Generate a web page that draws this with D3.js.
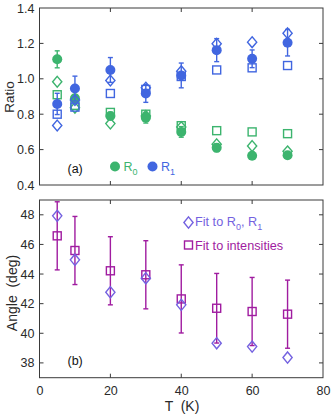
<!DOCTYPE html>
<html><head><meta charset="utf-8">
<script src="https://cdn.jsdelivr.net/npm/d3@7"></script>
<style>body{margin:0;background:#fff}svg{display:block}text{font-family:"Liberation Sans",Arial,sans-serif}</style>
</head><body><svg id="c" width="332" height="416"></svg>
<script>
// ---- data ----
const T = [5, 10, 20, 30, 40, 50, 60, 70];
// panel (a): ratios
const R0 = [1.11, 0.89, 0.79, 0.78, 0.70, 0.61, 0.565, 0.568];
const R0err = [0.048, 0.02, 0.02, 0.03, 0.03, 0.022, 0.02, 0.015];
const R0diamond = [0.983, 0.836, 0.747, 0.79, 0.727, 0.63, 0.62, 0.59];
const R0square = [0.91, 0.85, 0.81, 0.80, 0.735, 0.707, 0.70, 0.69];
const R1 = [0.858, 0.945, 1.05, 0.917, 1.019, 1.162, 1.113, 1.204];
const R1err = [0.06, 0.07, 0.07, 0.05, 0.07, 0.065, 0.05, 0.075];
const R1diamond = [0.736, 0.88, 0.99, 0.95, 1.043, 1.198, 1.207, 1.257];
const R1square = [0.80, 0.84, 0.917, 0.94, 1.013, 1.05, 1.062, 1.075];
// panel (b): angles
const angleFitR = [47.93, 44.96, 42.77, 43.72, 41.92, 39.33, 39.10, 38.36];
const angleFitI = [46.58, 45.59, 44.22, 43.95, 42.32, 41.69, 41.47, 41.29];
const angleFitIerr = [2.3, 2.3, 2.3, 2.3, 2.3, 2.35, 2.3, 2.3];
const xTicks = [0, 20, 40, 60, 80];
const yTicksA = [0.4, 0.6, 0.8, 1.0, 1.2, 1.4];
const yTicksB = [38, 40, 42, 44, 46, 48];

const GREEN = "#3cb46e", BLUE = "#4166e0", VIOLET = "#7462e0", PURPLE = "#a01ca0", AX = "#3a3a3a";
const svg = d3.select("#c");
const x = d3.scaleLinear().domain([0, 80]).range([39.5, 323]);
const yA = d3.scaleLinear().domain([0.4, 1.4]).range([185, 8]);
const yB = d3.scaleLinear().domain([37, 49]).range([377.7, 200]);

function frame(y, yt, fmt, showX) {
  const g = svg.append("g");
  const [y0, y1] = y.range();
  const tl = 4;
  // inner ticks
  const xs = [20, 40, 60];
  xs.forEach(v => {
    g.append("line").attr("x1", x(v)).attr("x2", x(v)).attr("y1", y0).attr("y2", y0 - tl).attr("stroke", AX);
    g.append("line").attr("x1", x(v)).attr("x2", x(v)).attr("y1", y1).attr("y2", y1 + tl).attr("stroke", AX);
  });
  yt.forEach(v => {
    if (Math.abs(y(v) - y0) < 1 || Math.abs(y(v) - y1) < 1) return;
    g.append("line").attr("x1", x(0)).attr("x2", x(0) + tl).attr("y1", y(v)).attr("y2", y(v)).attr("stroke", AX);
    g.append("line").attr("x1", x(80)).attr("x2", x(80) - tl).attr("y1", y(v)).attr("y2", y(v)).attr("stroke", AX);
  });
  g.append("rect").attr("x", x(0)).attr("y", y1).attr("width", x(80) - x(0)).attr("height", y0 - y1)
    .attr("fill", "none").attr("stroke", AX).attr("stroke-width", 1);
  // left axis labels via d3 axis
  const ya = d3.axisLeft(y).tickValues(yt).tickFormat(fmt).tickSize(0).tickPadding(5);
  const ag = g.append("g").attr("transform", `translate(${x(0)},0)`).call(ya);
  ag.select(".domain").remove();
  ag.selectAll("text").attr("font-size", 12.5).attr("fill", "#2a2a2a").attr("font-family", "Liberation Sans, Arial, sans-serif");
  if (showX) {
    const xa = d3.axisBottom(x).tickValues(xTicks).tickFormat(d3.format("d")).tickSize(0).tickPadding(8);
    const xg = g.append("g").attr("transform", `translate(0,${y0})`).call(xa);
    xg.select(".domain").remove();
    xg.selectAll("text").attr("font-size", 12.5).attr("fill", "#2a2a2a").attr("font-family", "Liberation Sans, Arial, sans-serif");
  }
}
frame(yA, yTicksA, d3.format(".1f"), false);
frame(yB, yTicksB, d3.format("d"), true);

function diamondPath(cx, cy, w, h) {
  return `M${cx},${cy - h}L${cx + w},${cy}L${cx},${cy + h}L${cx - w},${cy}Z`;
}
function diamonds(vals, y, color, w, h) {
  svg.append("g").selectAll("path").data(vals).join("path")
    .attr("d", (d, i) => diamondPath(x(T[i]), y(d), w, h))
    .attr("fill", "none").attr("stroke", color).attr("stroke-width", 1.4);
}
function squares(vals, y, color, s) {
  svg.append("g").selectAll("rect").data(vals).join("rect")
    .attr("x", (d, i) => x(T[i]) - s / 2).attr("y", d => y(d) - s / 2)
    .attr("width", s).attr("height", s)
    .attr("fill", "none").attr("stroke", color).attr("stroke-width", 1.4);
}
function errbars(vals, errs, y, color) {
  const g = svg.append("g").attr("stroke", color).attr("stroke-width", 1.4);
  vals.forEach((d, i) => {
    const cx = x(T[i]);
    const top = Math.min(d + errs[i], y.domain()[1]);
    const bot = d - errs[i];
    g.append("line").attr("x1", cx).attr("x2", cx).attr("y1", y(top)).attr("y2", y(bot));
    g.append("line").attr("x1", cx - 2.5).attr("x2", cx + 2.5).attr("y1", y(top)).attr("y2", y(top));
    g.append("line").attr("x1", cx - 2.5).attr("x2", cx + 2.5).attr("y1", y(bot)).attr("y2", y(bot));
  });
}
function circles(vals, y, color) {
  svg.append("g").selectAll("circle").data(vals).join("circle")
    .attr("cx", (d, i) => x(T[i])).attr("cy", d => y(d)).attr("r", 5).attr("fill", color);
}

// panel (a)
squares(R0square, yA, GREEN, 8);
diamonds(R0diamond, yA, GREEN, 4.6, 5.4);
errbars(R0, R0err, yA, GREEN);
circles(R0, yA, GREEN);
squares(R1square, yA, BLUE, 8);
diamonds(R1diamond, yA, BLUE, 4.6, 5.4);
errbars(R1, R1err, yA, BLUE);
circles(R1, yA, BLUE);

// panel (b)
errbars(angleFitI, angleFitIerr, yB, PURPLE);
squares(angleFitI, yB, PURPLE, 8);
diamonds(angleFitR, yB, VIOLET, 4.6, 5.6);

// legends
svg.append("circle").attr("cx", 115).attr("cy", 166.5).attr("r", 5).attr("fill", GREEN);
const t0 = svg.append("text").attr("x", 123.5).attr("y", 171).attr("font-size", 12.5).attr("fill", GREEN);
t0.append("tspan").text("R");
t0.append("tspan").attr("font-size", 9).attr("dy", 3.5).text("0");
svg.append("circle").attr("cx", 152.5).attr("cy", 166.5).attr("r", 5).attr("fill", BLUE);
const t1 = svg.append("text").attr("x", 161).attr("y", 171).attr("font-size", 12.5).attr("fill", BLUE);
t1.append("tspan").text("R");
t1.append("tspan").attr("font-size", 9).attr("dy", 3.5).text("1");
svg.append("text").attr("x", 67.5).attr("y", 173).attr("font-size", 12.5).attr("fill", "#111").text("(a)");
svg.append("text").attr("x", 67.5).attr("y", 364.5).attr("font-size", 12.5).attr("fill", "#111").text("(b)");

svg.append("path").attr("d", diamondPath(188.5, 222.5, 4.6, 5.6)).attr("fill", "none").attr("stroke", VIOLET).attr("stroke-width", 1.4);
const t2 = svg.append("text").attr("x", 195).attr("y", 226).attr("font-size", 12.7).attr("fill", VIOLET);
t2.append("tspan").text("Fit to R");
t2.append("tspan").attr("font-size", 9).attr("dy", 3.5).text("0");
t2.append("tspan").attr("dy", -3.5).text(", R");
t2.append("tspan").attr("font-size", 9).attr("dy", 3.5).text("1");
svg.append("rect").attr("x", 184.5).attr("y", 241).attr("width", 8).attr("height", 8).attr("fill", "none").attr("stroke", PURPLE).attr("stroke-width", 1.4);
svg.append("text").attr("x", 195).attr("y", 249.5).attr("font-size", 12.7).attr("fill", PURPLE).text("Fit to intensities");

// axis titles
svg.append("text").attr("transform", "translate(14,97) rotate(-90)").attr("text-anchor", "middle")
  .attr("font-size", 13.5).attr("fill", "#2a2a2a").text("Ratio");
svg.append("text").attr("transform", "translate(16.5,293) rotate(-90)").attr("text-anchor", "middle")
  .attr("font-size", 14).attr("fill", "#2a2a2a").style("white-space", "pre").text("Angle  (deg)");
svg.append("text").attr("x", 182).attr("y", 411).attr("text-anchor", "middle")
  .attr("font-size", 14).attr("fill", "#2a2a2a").style("white-space", "pre").text("T  (K)");
</script></body></html>
